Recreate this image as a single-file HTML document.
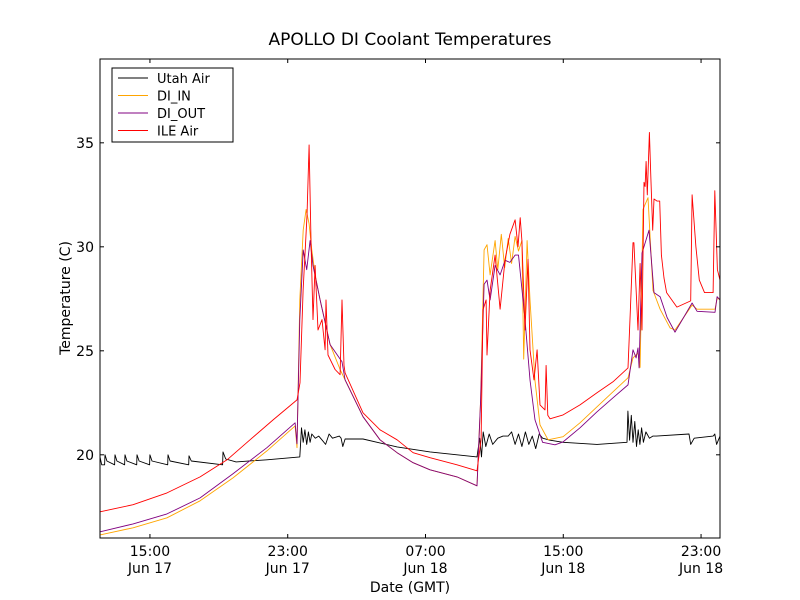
<!DOCTYPE html>
<html><head><meta charset="utf-8"><style>
body{margin:0;background:#fff;}
svg{display:block;font-family:"DejaVu Sans","Liberation Sans",sans-serif;}
</style></head><body>
<svg id="chart" width="800" height="600">
<rect width="800" height="600" fill="#fff"/>
<text x="410" y="45" text-anchor="middle" font-size="17">APOLLO DI Coolant Temperatures</text>
<g id="plot"></g>
<text x="410" y="592" text-anchor="middle" font-size="14">Date (GMT)</text>
<text transform="translate(70,298) rotate(-90)" text-anchor="middle" font-size="14">Temperature (C)</text>
</svg>
<script>
const xTickHours=[15,23,31,39,47];
const xTickLines1=["15:00","23:00","07:00","15:00","23:00"];
const xTickLines2=["Jun 17","Jun 17","Jun 18","Jun 18","Jun 18"];
const yTicks=[20,25,30,35];
const seriesNames=["Utah Air","DI_IN","DI_OUT","ILE Air"];
const seriesColors=["#000000","#ffa500","#800080","#ff0000"];
const utahHours=[12.1,12.2,12.37,12.39,12.5,12.95,12.97,13.08,13.53,13.55,13.66,14.23,14.25,14.37,14.98,15.0,15.12,16.03,16.05,16.17,17.25,17.27,17.4,19.22,19.24,19.4,20.0,21.79,23.7,23.8,23.9,24.0,24.1,24.2,24.3,24.4,24.6,24.8,25.0,25.2,25.4,25.6,26.0,26.1,26.2,26.33,27.37,29.35,31.26,33.99,34.15,34.25,34.35,34.5,34.7,34.9,35.2,35.5,35.8,36.0,36.2,36.4,36.6,36.8,37.0,37.2,37.4,37.6,37.8,38.23,38.99,40.96,42.7,42.75,42.85,42.95,43.05,43.15,43.25,43.35,43.45,43.55,43.65,43.8,44.0,44.2,44.4,46.3,46.4,46.6,47.7,47.8,47.9,48.1];
const utahTemps=[19.9,19.52,19.52,20.0,19.7,19.52,20.0,19.7,19.52,20.0,19.7,19.52,20.0,19.7,19.52,20.0,19.7,19.52,20.0,19.7,19.52,19.95,19.7,19.52,20.14,19.8,19.66,19.76,19.9,21.3,20.6,21.2,20.5,21.1,20.6,21.0,20.8,20.9,20.7,20.5,21.0,20.8,20.9,20.8,20.4,20.76,20.76,20.38,20.14,19.9,20.8,19.9,21.1,20.4,21.0,20.5,20.8,20.9,20.9,21.1,20.5,21.0,20.4,21.1,20.5,20.9,20.3,21.0,20.8,20.7,20.6,20.5,20.6,22.1,20.7,21.9,20.6,21.6,20.4,21.2,20.5,21.3,20.6,21.1,20.8,20.9,20.9,21.0,20.5,20.8,20.9,21.0,20.5,20.9];
const diInHours=[12.1,14.02,15.99,17.91,19.82,21.79,23.43,23.54,23.7,23.9,24.07,24.24,24.4,24.6,24.88,25.46,26.04,26.33,27.37,28.36,29.35,30.28,31.26,32.83,33.99,34.2,34.4,34.57,34.75,35.04,35.2,35.4,35.6,35.8,36.0,36.2,36.4,36.6,36.7,36.9,37.07,37.35,37.65,38.12,38.99,39.97,40.96,41.89,42.76,43.05,43.34,43.46,43.63,43.92,44.21,44.62,45.2,45.49,46.48,46.77,47.81,47.93,48.1];
const diInTemps=[16.15,16.49,16.97,17.79,18.89,20.19,21.39,20.34,27.45,30.8,31.8,31.1,29.85,28.6,27.45,25.3,24.1,23.6,21.83,20.72,20.1,19.62,19.28,18.94,18.51,22.6,29.85,30.1,28.65,30.3,28.9,30.6,29.0,30.4,29.2,30.5,29.8,30.3,24.6,30.3,27.45,23.6,21.44,20.72,20.87,21.54,22.31,23.03,23.7,24.66,24.9,24.2,31.8,32.36,27.9,27.0,26.1,26.0,27.2,27.0,27.0,27.5,27.5];
const diOutHours=[12.1,14.02,15.99,17.91,19.82,21.79,23.43,23.54,23.7,23.9,24.1,24.3,24.47,24.88,25.46,26.15,26.33,27.37,28.36,29.35,30.28,31.26,32.83,33.99,34.2,34.4,34.57,34.75,35.04,35.33,35.62,35.9,36.2,36.4,36.78,37.07,37.36,37.8,38.52,38.99,39.97,40.96,41.89,42.76,43.05,43.23,43.34,43.4,43.57,43.98,44.27,44.62,45.03,45.49,46.48,46.77,47.81,47.93,48.1];
const diOutTemps=[16.3,16.68,17.16,17.93,19.09,20.34,21.54,20.53,26.5,29.85,28.9,30.3,29.1,27.45,25.3,24.47,23.6,21.83,20.72,20.1,19.62,19.28,18.94,18.51,22.6,28.2,28.4,27.45,29.1,28.65,29.35,29.25,29.6,29.6,26.5,23.6,21.68,20.6,20.48,20.62,21.3,22.07,22.74,23.36,25.05,24.66,25.14,24.18,29.7,30.8,27.8,27.6,26.6,25.9,27.3,26.9,26.85,27.6,27.45];
const ileHours=[12.1,14.02,15.99,17.91,19.48,20.81,22.15,23.54,23.71,23.89,24.12,24.24,24.35,24.47,24.59,24.76,24.99,25.17,25.22,25.34,25.75,26.04,26.15,26.27,26.33,27.37,28.36,29.35,30.28,31.26,32.83,33.99,34.23,34.34,34.52,34.57,34.75,35.04,35.33,35.62,35.9,36.2,36.37,36.5,36.6,36.78,36.95,37.07,37.3,37.48,37.65,37.94,38.0,38.1,38.23,38.99,39.97,40.96,41.89,42.76,42.9,43.05,43.1,43.34,43.46,43.57,43.69,43.75,43.81,43.88,44.0,44.08,44.19,44.27,44.45,44.6,44.7,44.85,45.0,45.6,46.4,46.48,46.7,46.9,47.2,47.7,47.8,47.95,48.1];
const ileTemps=[17.26,17.6,18.17,18.94,19.76,20.72,21.68,22.64,23.46,27.9,31.5,34.9,30.3,26.5,29.1,26.0,26.5,25.05,27.45,24.8,24.1,23.85,27.45,24.3,23.94,22.02,21.2,20.72,20.1,19.86,19.52,19.23,20.72,26.97,27.45,24.8,27.9,29.6,27.0,29.4,30.6,31.3,30.0,31.4,30.3,26.0,29.4,25.05,23.6,25.05,22.4,22.16,24.3,21.9,21.73,21.92,22.4,22.98,23.51,24.18,27.0,30.2,30.2,26.0,29.2,26.0,33.1,32.9,34.1,32.5,35.5,33.4,30.8,32.3,32.2,32.2,29.6,28.5,27.8,27.1,27.4,32.5,30.0,28.4,27.8,27.8,32.7,28.9,28.4];
const series=[[utahHours,utahTemps],[diInHours,diInTemps],[diOutHours,diOutTemps],[ileHours,ileTemps]];

const L=100,R=720,T=59,B=538,H0=12.1,H1=48.1,Y0=16.0,Y1=39.03;
const xs=h=>L+(h-H0)/(H1-H0)*(R-L);
const ys=t=>B-(t-Y0)/(Y1-Y0)*(B-T);
const NS="http://www.w3.org/2000/svg";
const plot=document.getElementById('plot');
function mk(tag,attrs,parent){const e=document.createElementNS(NS,tag);for(const k in attrs)e.setAttribute(k,attrs[k]);(parent||plot).appendChild(e);return e;}
const clip=mk('clipPath',{id:'cp'});mk('rect',{x:L,y:T,width:R-L,height:B-T},clip);
const lines=mk('g',{'clip-path':'url(#cp)'});


series.forEach((s,i)=>{
  const d=s[0].map((h,j)=>(j?'L':'M')+xs(h).toFixed(1)+','+ys(s[1][j]).toFixed(1)).join('');
  const p=mk('path',{d:d,fill:'none',stroke:seriesColors[i],'stroke-width':0.9,'stroke-linejoin':'round'},lines);
  
  
});
const frame=mk('rect',{x:L,y:T,width:R-L,height:B-T,fill:'none',stroke:'#000','stroke-width':1});


xTickHours.forEach((h,i)=>{
  const x=xs(h);
  mk('line',{x1:x,x2:x,y1:B,y2:B-4,stroke:'#000'});
  mk('line',{x1:x,x2:x,y1:T,y2:T+4,stroke:'#000'});
  const t1=mk('text',{x:x,y:B+18,'text-anchor':'middle','font-size':14});t1.textContent=xTickLines1[i];
  
  
  const t2=mk('text',{x:x,y:B+35,'text-anchor':'middle','font-size':14});t2.textContent=xTickLines2[i];
  
  
});
yTicks.forEach(v=>{
  const y=ys(v);
  mk('line',{x1:L,x2:L+4,y1:y,y2:y,stroke:'#000'});
  mk('line',{x1:R,x2:R-4,y1:y,y2:y,stroke:'#000'});
  const t=mk('text',{x:L-6,y:y+5,'text-anchor':'end','font-size':14});t.textContent=v;
  
  
});
const lg=mk('g',{});


mk('rect',{x:112,y:68,width:121,height:74,fill:'#fff',stroke:'#000','stroke-width':1},lg);
seriesNames.forEach((n,i)=>{
  const y=78+i*17.5;
  const g=mk('g',{},lg);
  
  
  mk('line',{x1:118,x2:148,y1:y,y2:y,stroke:seriesColors[i],'stroke-width':0.9},g);
  const t=mk('text',{x:157,y:y+5,'font-size':13},g);t.textContent=n;
});
</script>
</body></html>
